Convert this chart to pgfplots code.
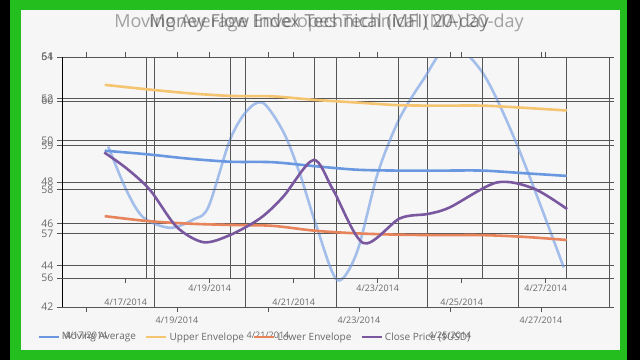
\documentclass[border=0pt]{standalone}
\usepackage{fontspec}
\setmainfont{Open Sans}
\usepackage{pgfplots}
\pgfplotsset{compat=1.18}
\definecolor{frameC}{RGB}{36,190,30}
\definecolor{panelC}{RGB}{246,246,246}
\definecolor{maC}{RGB}{105,152,225}
\definecolor{ueC}{RGB}{245,196,112}
\definecolor{leC}{RGB}{232,132,92}
\definecolor{cpC}{RGB}{122,88,160}
\definecolor{mfiC}{RGB}{120,160,228}
\definecolor{gridC}{RGB}{85,85,85}
\definecolor{lblC}{RGB}{105,105,105}
\pgfplotsset{
  base/.style={
    scale only axis, width=547pt,
    axis line style={draw=gridC, line width=0.8pt},
    tick align=outside, major tick length=5pt, minor tick length=0pt,
    tick style={draw=gridC, line width=0.8pt},
    xminorgrids=true, xmajorgrids=false, ymajorgrids=true,
    major grid style={draw=gridC, line width=0.8pt},
    minor grid style={draw=gridC, line width=0.8pt},
    /pgf/number format/assume math mode=true,
    yticklabel style={font=\fontsize{10.5}{12}\selectfont, text=lblC},
    xticklabel style={font=\fontsize{9}{11}\selectfont, text=lblC, anchor=center},
    every axis plot/.append style={line width=2.6pt, smooth, tension=0.5},
    after end axis/.code={\draw[black, line width=1pt] (rel axis cs:0,0) -- (rel axis cs:0,1);},
  }
}
\begin{document}
\begin{tikzpicture}[x=1pt,y=1pt]
\fill[black] (0,0) rectangle (640,360);
\fill[frameC] (10,0) rectangle (627,360);
\fill[panelC] (21,10) rectangle (620,350);
% title(s) of the two blended frames
\node[text=black!45, opacity=0.8, font=\fontsize{18}{21}\selectfont] at (319,337) {Moving Average Envelopes Technical (MA) 20-day};
\node[text=black!75, opacity=0.6, font=\fontsize{18}{21}\selectfont] at (319,337) {Money Flow Index Technical (MFI) 20-day};
% ---- chart A (Money Flow Index frame)
\begin{axis}[base, at={(62pt,53pt)}, anchor=south west, height=250pt,
  xmin=16.473, xmax=28.495, ymin=42, ymax=54,
  ytick={42,44,...,54},
  xtick={17,21,25}, xticklabels={4/17/2014,4/21/2014,4/25/2014},
  xticklabel style={yshift=-23pt},
  extra x ticks={19,23,27}, extra x tick labels={4/19/2014,4/23/2014,4/27/2014},
  extra x tick style={xticklabel style={yshift=15pt}},
  minor xtick={18.5,20.5,22.5,24.5,26.5},
]
\addplot[mfiC, opacity=0.65] coordinates {
(17.49,49.7) (17.89,47.6) (18.26,46.3) (18.85,45.8) (19.36,46.2) (19.69,46.8)
(20.16,50.0) (20.53,51.4) (20.89,51.8) (21.34,50.4) (21.70,48.4) (22.07,45.85)
(22.52,43.3) (22.95,44.6) (23.41,48.4) (23.88,51.0) (24.41,52.9) (25.0,54.6)
(25.73,53.2) (26.49,49.7) (27.5,43.9)};
\end{axis}
% ---- chart B (Moving Average Envelopes frame)
\begin{axis}[base, at={(62pt,82pt)}, anchor=south west, height=221pt,
  xmin=15.483, xmax=28.507, ymin=56, ymax=61,
  ytick={56,...,61},
  xtick={17,21,25}, xticklabels={4/17/2014,4/21/2014,4/25/2014},
  xticklabel style={yshift=-19pt},
  extra x ticks={19,23,27}, extra x tick labels={4/19/2014,4/23/2014,4/27/2014},
  extra x tick style={xticklabel style={yshift=14pt}},
  minor xtick={17.5,19.5,...,27.5},
  legend columns=4,
  legend style={at={(-0.051,-0.267)}, anchor=west, draw=none, fill=none,
    font=\fontsize{10}{12}\selectfont, text=lblC,
    /tikz/every even column/.append style={column sep=7pt}},
  legend image code/.code={\draw[#1, line width=2.6pt] (0pt,0pt) -- (20pt,0pt);},
]
\addplot[maC] coordinates {(16.5,58.88) (17.5,58.80) (18.5,58.70) (19.5,58.63) (20.5,58.62) (21.5,58.53) (22.5,58.45) (23.5,58.43) (24.5,58.43) (25.5,58.43) (26.5,58.37) (27.5,58.31)};
\addlegendentry{Moving Average}
\addplot[ueC] coordinates {(16.5,60.37) (17.5,60.27) (18.5,60.18) (19.5,60.12) (20.5,60.11) (21.5,60.03) (22.5,59.97) (23.5,59.91) (24.5,59.90) (25.5,59.90) (26.5,59.85) (27.5,59.79)};
\addlegendentry{Upper Envelope}
\addplot[leC] coordinates {(16.5,57.40) (17.5,57.29) (18.5,57.23) (19.5,57.20) (20.5,57.18) (21.5,57.07) (22.5,57.01) (23.5,56.98) (24.5,56.97) (25.5,56.97) (26.5,56.93) (27.5,56.86)};
\addlegendentry{Lower Envelope}
\addplot[cpC] coordinates {(16.49,58.84) (17.02,58.48) (17.58,57.99) (18.21,57.16) (18.85,56.81) (19.48,56.97) (20.2,57.35) (20.75,57.84) (21.47,58.67) (21.94,57.99) (22.66,56.79) (23.53,57.35) (24.2,57.45) (24.72,57.6) (25.83,58.16) (26.70,58.03) (27.51,57.56)};
\addlegendentry{Close Price (\$USD)}
\end{axis}
\end{tikzpicture}
\end{document}
